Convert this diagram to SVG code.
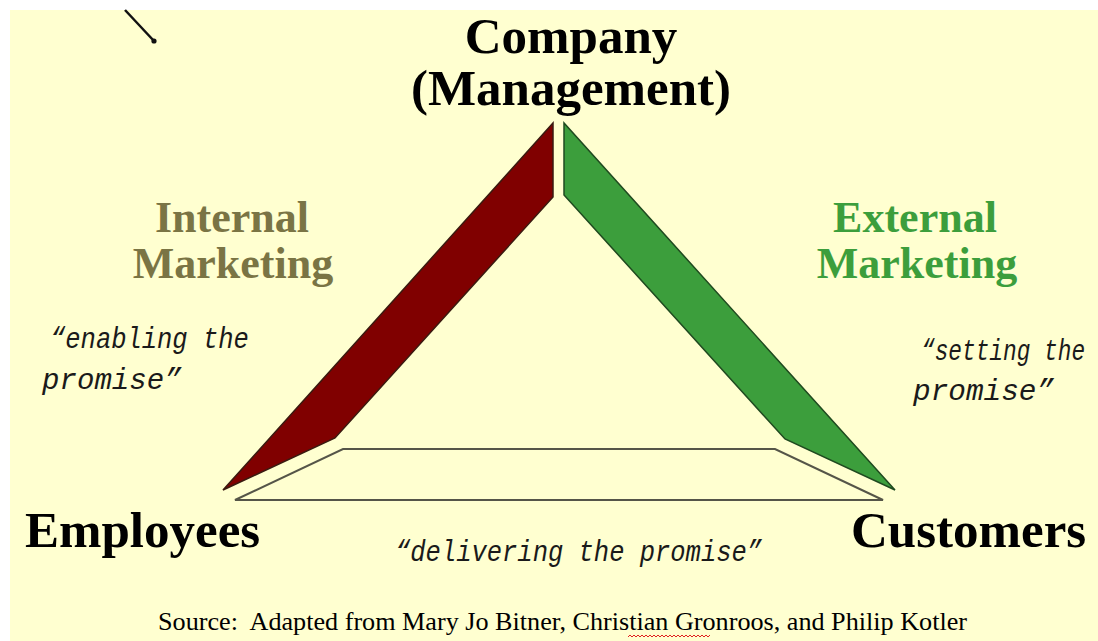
<svg xmlns="http://www.w3.org/2000/svg" width="1098" height="641" viewBox="0 0 1098 641">
<style>
.bold{font-family:"Liberation Serif","Times New Roman",serif;font-weight:bold;}
.big{font-size:51px;fill:#000;}
.mk{font-size:44px;text-anchor:middle;}
.it{font-family:"Liberation Mono","Courier New",monospace;font-style:italic;font-size:30px;fill:#1a1a1a;}
.src{font-family:"Liberation Serif","Times New Roman",serif;font-size:26px;fill:#000;}
</style>
<rect x="0" y="0" width="1098" height="641" fill="#ffffff"/>
<rect x="10" y="10" width="1088" height="631" fill="#FFFFD0"/>
<g id="pointer">
<line x1="125" y1="10" x2="154" y2="41" stroke="#111" stroke-width="2.5"/>
<circle cx="154" cy="41" r="2.6" fill="#111"/>
</g>
<g id="connectors">
<polygon id="internal-bar" points="553,123 553,197 335,438 223,490" fill="#800000" stroke="#3a1a10" stroke-width="1.5"/>
<polygon id="external-bar" points="564,123 564,195 785,439 895,490" fill="#3C9E3C" stroke="#1f4a1f" stroke-width="1.5"/>
<polygon id="interactive-bar" points="343,449 775,449 883,500 235,500" fill="#FFFFD0" stroke="#555548" stroke-width="2"/>
</g>
<g id="node-company">
<text class="bold big" x="571" y="53" text-anchor="middle">Company</text>
<text class="bold big" x="571" y="105" text-anchor="middle">(Management)</text>
</g>
<g id="node-internal">
<text class="bold mk" x="232" y="232" fill="#7A7444">Internal</text>
<text class="bold mk" x="233" y="278" fill="#7A7444">Marketing</text>
<text class="it" transform="translate(50,348) scale(0.85,1)">“enabling the</text>
<text class="it" transform="translate(42,389) scale(0.97,1)">promise”</text>
</g>
<g id="node-external">
<text class="bold mk" x="915" y="232" fill="#3C9E3C">External</text>
<text class="bold mk" x="917" y="278" fill="#3C9E3C">Marketing</text>
<text class="it" transform="translate(921,360) scale(0.76,1)">“setting the</text>
<text class="it" transform="translate(913,400) scale(0.98,1)">promise”</text>
</g>
<g id="node-employees">
<text class="bold big" x="25" y="547">Employees</text>
</g>
<g id="node-customers">
<text class="bold big" x="851" y="547">Customers</text>
</g>
<g id="node-interactive">
<text class="it" transform="translate(395,561) scale(0.85,1)">“delivering the promise”</text>
</g>
<g id="source">
<text class="src" x="158" y="630" textLength="809" lengthAdjust="spacingAndGlyphs" xml:space="preserve">Source:  Adapted from Mary Jo Bitner, Christian Gronroos, and Philip Kotler</text>
<path d="M628,637 l2,-2 l2,2 l2,-2 l2,2 l2,-2 l2,2 l2,-2 l2,2 l2,-2 l2,2 l2,-2 l2,2 l2,-2 l2,2 l2,-2 l2,2 l2,-2 l2,2 l2,-2 l2,2 l2,-2 l2,2 l2,-2 l2,2 l2,-2 l2,2 l2,-2 l2,2 l2,-2 l2,2 l2,-2 l2,2 l2,-2 l2,2 l2,-2 l2,2 l2,-2 l2,2 l2,-2 l2,2 l2,-2" fill="none" stroke="#e02020" stroke-width="1"/>
</g>
</svg>
